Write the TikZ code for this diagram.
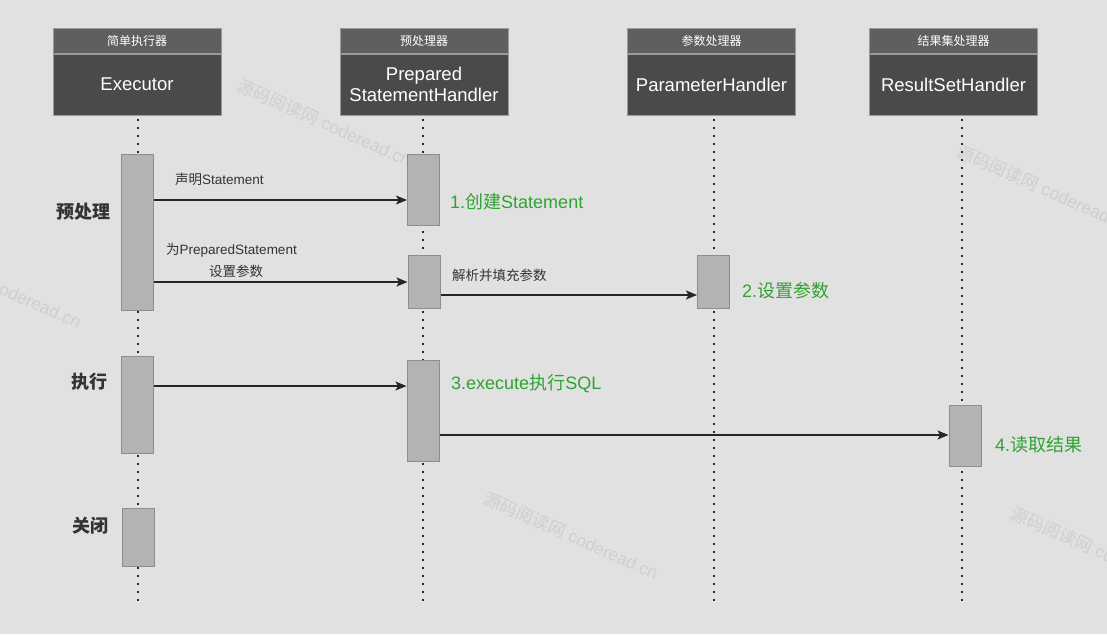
\documentclass[tikz,border=0pt]{standalone}
\usepackage{fontspec}
\setmainfont{Liberation Sans}
\newfontfamily\cjk{Noto Sans CJK SC}
\usetikzlibrary{arrows.meta}
\definecolor{bgc}{HTML}{E1E1E1}
\definecolor{hdrc}{HTML}{5F5F5F}
\definecolor{boxc}{HTML}{4A4A4A}
\definecolor{edgec}{HTML}{9A9A9A}
\definecolor{actc}{HTML}{B3B3B3}
\definecolor{actedge}{HTML}{8E8E8E}
\definecolor{txtc}{HTML}{333333}
\definecolor{grn}{HTML}{2FA331}
\definecolor{wmc}{HTML}{CFCFCF}
\tikzset{
  hdr/.style={draw=edgec, fill=hdrc, line width=0.8pt, minimum width=168pt, minimum height=25pt,
    inner sep=0pt, text=white, font=\cjk\fontsize{12}{13}\selectfont},
  lbox/.style={draw=edgec, fill=boxc, line width=0.8pt, minimum width=168pt, minimum height=61pt,
    inner sep=0pt, text=white, align=center, font=\fontsize{18.5}{22}\selectfont},
  act/.style={draw=actedge, fill=actc, line width=1pt, minimum width=32pt, inner sep=0pt},
  life/.style={draw=black!85, line width=2pt, dash pattern=on 2pt off 6pt},
  msg/.style={draw=black!85, line width=1.1pt, -{Stealth[length=11pt,width=9pt,inset=2.5pt]}},
  lbl/.style={text=txtc, inner sep=0pt, font=\fontsize{13.5}{16}\selectfont},
  gl/.style={text=grn, inner sep=0pt, anchor=west, font=\fontsize{18}{20}\selectfont},
  sec/.style={text=txtc, inner sep=0pt, font=\cjk\bfseries\fontsize{18}{20}\selectfont},
  wm/.style={text=wmc, inner sep=0pt, anchor=west, rotate=-24, font=\fontsize{17.5}{19}\selectfont}
}
\begin{document}
\begin{tikzpicture}[x=1pt,y=-1pt]
\fill[bgc] (0,0) rectangle (1107,634);
\useasboundingbox (0,0) rectangle (1107,634);

% watermarks
\node[wm] (w1) at (238,84) {{\cjk 源码阅读网} coderead.cn};
\node[wm] (w2) at (958,150) {{\cjk 源码阅读网} coderead.cn};
\node[wm] (w3) at (-92,246) {{\cjk 源码阅读网} coderead.cn};
\node[wm] (w4) at (485,497) {{\cjk 源码阅读网} coderead.cn};
\node[wm] (w5) at (1012,512) {{\cjk 源码阅读网} coderead.cn};

% headers
\node[hdr] (eh) at (137,40.5) {简单执行器};
\node[lbox] (eb) at (137,84.5) {Executor};
\node[hdr] (ph) at (424,40.5) {预处理器};
\node[lbox] (pb) at (424,84.5) {Prepared\\[-1pt]StatementHandler};
\node[hdr] (mh) at (711.5,40.5) {参数处理器};
\node[lbox] (mb) at (711.5,84.5) {ParameterHandler};
\node[hdr] (rh) at (953.5,40.5) {结果集处理器};
\node[lbox] (rb) at (953.5,84.5) {ResultSetHandler};

% lifelines
\coordinate (el) at (137.5,606);
\coordinate (pl) at (423,607);
\coordinate (ml) at (713.5,601);
\coordinate (rl) at (962,607);
\draw[life] (eb.south -| el) ++(0,4) -- (el);
\draw[life] (pb.south -| pl) ++(0,4) -- (pl);
\draw[life] (mb.south -| ml) ++(0,4) -- (ml);
\draw[life] (rb.south -| rl) ++(0,4) -- (rl);

% activations
\node[act, minimum height=156pt] (e1) at (137.5,232) {};
\node[act, minimum height=97pt] (e2) at (137.5,404.5) {};
\node[act, minimum height=58pt] (e3) at (138,537) {};
\node[act, minimum height=71pt] (p1) at (423.5,189.5) {};
\node[act, minimum height=53pt] (p2) at (424,281.5) {};
\node[act, minimum height=101pt] (p3) at (423,410.5) {};
\node[act, minimum height=53pt] (m1) at (713.5,281.5) {};
\node[act, minimum height=61pt] (r1) at (965,435.5) {};

% messages
\draw[msg] (e1.east |- 0,200) -- (p1.west |- 0,200);
\draw[msg] (e1.east |- 0,282) -- (p2.west |- 0,282);
\draw[msg] (p2.east |- 0,295) -- (m1.west |- 0,295);
\draw[msg] (e2.east |- 0,386) -- (p3.west |- 0,386);
\draw[msg] (p3.east |- 0,435) -- (r1.west |- 0,435);

% message labels
\node[lbl, anchor=west] (t1) at (175,179) {{\cjk 声明}Statement};
\node[lbl, anchor=west] (t2) at (166,250) {{\cjk 为}PreparedStatement};
\node[lbl] (t3) at (236,271) {\cjk 设置参数};
\node[lbl, anchor=west] (t4) at (452,275) {\cjk 解析并填充参数};

% green notes
\node[gl] (g1) at (450,202) {1.{\cjk 创建}Statement};
\node[gl] (g2) at (742,291) {2.{\cjk 设置参数}};
\node[gl] (g3) at (451,384) {3.execute{\cjk 执行}SQL};
\node[gl] (g4) at (995,445) {4.{\cjk 读取结果}};

% section labels
\node[sec] (s1) at (83.5,212) {预处理};
\node[sec] (s2) at (89.5,382) {执行};
\node[sec] (s3) at (90.5,526) {关闭};
\end{tikzpicture}
\end{document}
